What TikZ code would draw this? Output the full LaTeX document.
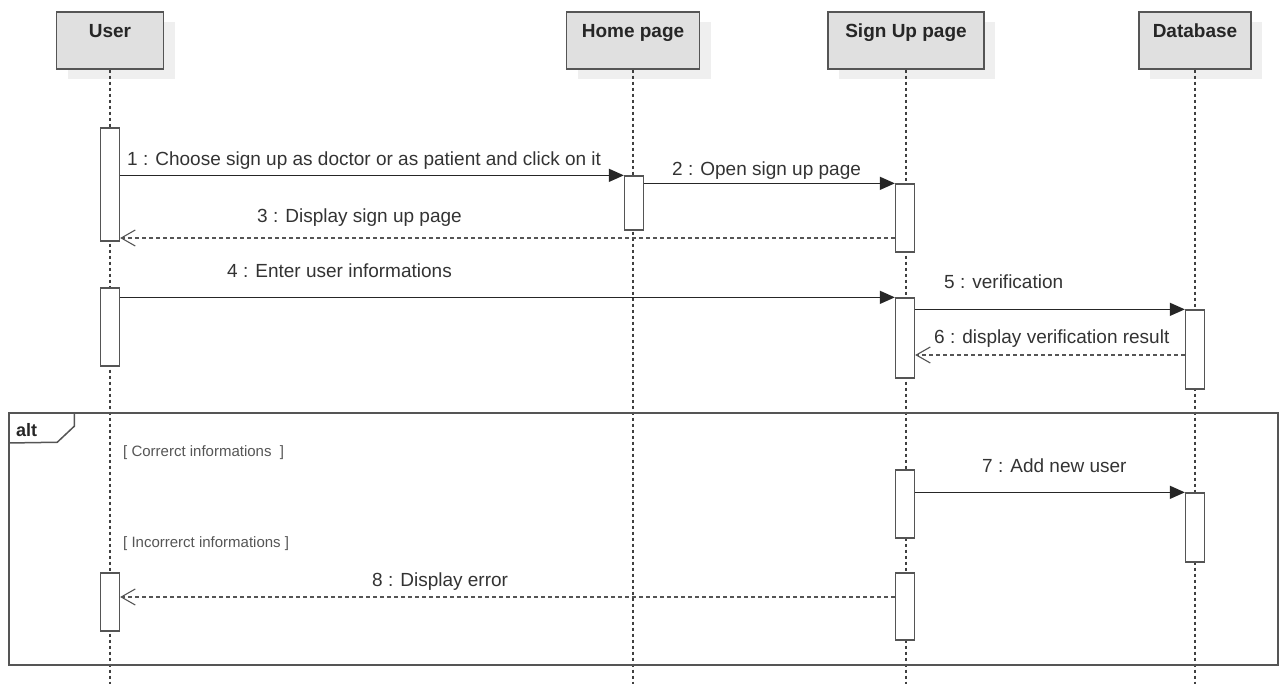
\documentclass[tikz,border=0pt]{standalone}
\usepackage{fontspec}
\setmainfont{Liberation Sans}
\usetikzlibrary{arrows.meta,shadows}

\definecolor{headfill}{HTML}{E0E0E0}
\definecolor{shadowgray}{HTML}{EFEFEF}
\definecolor{linegray}{HTML}{555555}
\definecolor{ink}{HTML}{333333}
\definecolor{guardink}{HTML}{555555}

\tikzset{
  head/.style={draw=linegray, fill=headfill, line width=1.3pt, inner sep=0pt,
    minimum height=57pt, text height=14pt, text depth=19pt, text=black!85,
    font=\bfseries\fontsize{19}{22}\selectfont,
    drop shadow={shadow xshift=11pt, shadow yshift=-10pt, fill=shadowgray, opacity=1}},
  lifeline/.style={draw=black!75, line width=1.3pt, dash pattern=on 3pt off 3pt},
  act/.style={draw=linegray, fill=white, line width=1.3pt, minimum width=19pt, inner sep=0pt},
  msg/.style={draw=black!85, line width=1.3pt, -{Triangle[length=15pt,width=13pt]}},
  reply/.style={draw=linegray, line width=1.1pt, dash pattern=on 4pt off 3pt,
    -{Straight Barb[length=14pt,width=16pt,line width=1.1pt]}},
  msglabel/.style={inner sep=0pt, text=ink, font=\fontsize{19}{22}\selectfont},
  guard/.style={inner sep=0pt, text=guardink, font=\fontsize{15}{18}\selectfont},
  frame/.style={draw=linegray, line width=1.5pt, inner sep=0pt},
}

\begin{document}
\begin{tikzpicture}[x=1pt,y=-1pt]
\useasboundingbox (0,0) rectangle (1279,684);

% participants
\node[head, minimum width=107pt] (user)   at (110,40.5)  {User};
\node[head, minimum width=133pt] (home)   at (633,40.5)  {Home page};
\node[head, minimum width=156pt] (signup) at (906,40.5)  {Sign Up page};
\node[head, minimum width=112pt] (db)     at (1195,40.5) {Database};

% lifelines
\coordinate (bottom) at (0,684);
\draw[lifeline] (user.south)   -- (user.south |- bottom);
\draw[lifeline] (home.south)   -- (home.south |- bottom);
\draw[lifeline] (signup.south) -- (signup.south |- bottom);
\draw[lifeline] (db.south)     -- (db.south |- bottom);

% alt fragment
\node[frame, minimum width=1269pt, minimum height=252pt] (alt) at (643.5,539) {};
\draw[linegray, line width=1.5pt] (alt.north west) ++(66,0) coordinate (tabtop)
  -- ++(0,14) -- ++(-17,16) -- (alt.north west |- 0,443);
\node[anchor=base west, inner sep=0pt, font=\bfseries\fontsize{18}{20}\selectfont, text=black!85]
  (altlabel) at (16,436) {alt};
\node[guard, anchor=base west] (g1) at (123,456) {[ Correrct informations\ \ ]};
\node[guard, anchor=base west] (g2) at (123,547) {[ Incorrerct informations ]};

% activations
\node[act, minimum height=113pt] (uA1) at (110,184.5) {};
\node[act, minimum height=78pt]  (uA2) at (110,327)   {};
\node[act, minimum height=58pt]  (uA3) at (110,602)   {};
\node[act, minimum height=54pt]  (hA1) at (634,203)   {};
\node[act, minimum height=68pt]  (sA1) at (905,218)   {};
\node[act, minimum height=80pt]  (sA2) at (905,338)   {};
\node[act, minimum height=68pt]  (sA3) at (905,504)   {};
\node[act, minimum height=67pt]  (sA4) at (905,606.5) {};
\node[act, minimum height=79pt]  (dA1) at (1195,349.5) {};
\node[act, minimum height=69pt]  (dA2) at (1195,527.5) {};

% return levels
\coordinate (r3) at (0,238);
\coordinate (r6) at (0,355);
\coordinate (r8) at (0,597);

% messages
\draw[msg]   (uA1.east |- hA1.north) -- (hA1.north west);
\draw[msg]   (hA1.east |- sA1.north) -- (sA1.north west);
\draw[reply] (sA1.west |- r3) -- (uA1.east |- r3);
\draw[msg]   (uA2.east |- sA2.north) -- (sA2.north west);
\draw[msg]   (sA2.east |- dA1.north) -- (dA1.north west);
\draw[reply] (dA1.west |- r6) -- (sA2.east |- r6);
\draw[msg]   (sA3.east |- dA2.north) -- (dA2.north west);
\draw[reply] (sA4.west |- r8) -- (uA3.east |- r8);

% message labels
\node[msglabel, anchor=base west] (l1) at (127,166)  {1 : Choose sign up as doctor or as patient and click on it};
\node[msglabel, anchor=base west] (l2) at (672,176)  {2 : Open sign up page};
\node[msglabel, anchor=base west] (l3) at (257,223)  {3 : Display sign up page};
\node[msglabel, anchor=base east] (l4) at (452,278)  {4 : Enter user informations};
\node[msglabel, anchor=base west] (l5) at (944,289)  {5 : verification};
\node[msglabel, anchor=base west] (l6) at (934,344)  {6 : display verification result};
\node[msglabel, anchor=base west] (l7) at (982,472)  {7 : Add new user};
\node[msglabel, anchor=base west] (l8) at (372,586)  {8 : Display error};
\end{tikzpicture}
\end{document}
